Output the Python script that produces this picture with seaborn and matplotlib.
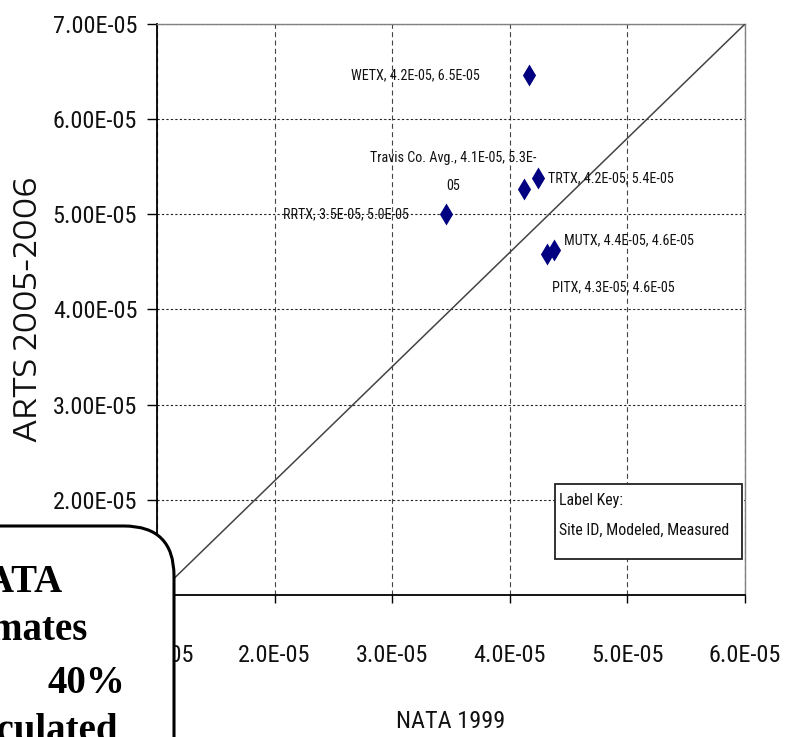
import matplotlib
matplotlib.use("Agg")
import matplotlib.pyplot as plt
from matplotlib import font_manager
from matplotlib.patches import FancyBboxPatch, Rectangle
from matplotlib.transforms import IdentityTransform
import seaborn as sns
import pandas as pd

# Monitoring sites: NATA 1999 modeled vs ARTS 2005-2006 measured concentrations
sites = ["WETX", "Travis Co. Avg.", "TRTX", "RRTX", "MUTX", "PITX"]
nata_1999 = [4.16e-5, 4.12e-5, 4.24e-5, 3.46e-5, 4.38e-5, 4.32e-5]
arts_2005_2006 = [6.46e-5, 5.27e-5, 5.38e-5, 5.00e-5, 4.63e-5, 4.58e-5]

x_ticks = [1e-5, 2e-5, 3e-5, 4e-5, 5e-5, 6e-5]
y_ticks = [1e-5, 2e-5, 3e-5, 4e-5, 5e-5, 6e-5, 7e-5]

# label placement (offset in points, horizontal alignment)
label_offsets = {
    "WETX": (-35, 0, "right"),
    "Travis Co. Avg.": (-51, 12, "center"),
    "TRTX": (7, 0, "left"),
    "RRTX": (-27, 0, "right"),
    "MUTX": (7, 7, "left"),
    "PITX": (3, -24, "left"),
}


def pick_font(candidates):
    have = {f.name for f in font_manager.fontManager.ttflist}
    for fam in candidates:
        if fam in have:
            return fam
    return "DejaVu Sans"


sns.set_theme(style="white")
narrow = pick_font(["Roboto Condensed", "PT Sans Narrow", "Archivo Narrow"])
wide = pick_font(["Encode Sans Expanded", "Liberation Sans", "DejaVu Sans"])
serif = pick_font(["Liberation Serif", "DejaVu Serif"])
plt.rcParams["font.family"] = [narrow, "DejaVu Sans"]

df = pd.DataFrame({"site": sites, "NATA 1999": nata_1999,
                   "ARTS 2005-2006": arts_2005_2006})

W, H = 798, 737
fig = plt.figure(figsize=(W / 100, H / 100), dpi=100, facecolor="white")
ax = fig.add_axes([157 / W, (H - 595) / H, 588 / W, 571 / H])
ax.set_facecolor("white")

ax.set_xlim(x_ticks[0], x_ticks[-1])
ax.set_ylim(y_ticks[0], y_ticks[-1])

# gridlines
ax.set_axisbelow(True)
ax.yaxis.grid(True, linestyle=(0, (2, 2)), color="#222222", lw=0.8)
ax.xaxis.grid(True, linestyle=(0, (4.5, 3)), color="#444444", lw=0.8)

# corner-to-corner reference line
ax.plot([x_ticks[0], x_ticks[-1]], [y_ticks[0], y_ticks[-1]],
        color="#444444", lw=1.1, zorder=3)

sns.scatterplot(data=df, x="NATA 1999", y="ARTS 2005-2006", marker="d",
                s=125, color="#000080", linewidth=0, ax=ax, zorder=5)

for name, xv, yv in zip(sites, nata_1999, arts_2005_2006):
    text = f"{name}, {xv:.1E}, {yv:.1E}"
    if len(text) > 31:
        text = text[:31] + "\n" + text[31:]
    dx, dy, ha = label_offsets[name]
    ax.annotate(text, (xv, yv), xytext=(dx, dy), textcoords="offset points",
                ha=ha, va="center", fontsize=10.2, color="#111111",
                linespacing=2.3, zorder=6)

ax.set_xticks(x_ticks)
ax.set_yticks(y_ticks)
ax.set_xticklabels([f"{v:.1E}" for v in x_ticks])
ax.set_yticklabels([f"{v:.2E}" for v in y_ticks])
ax.tick_params(axis="y", direction="out", length=7.2, width=1, color="black",
               pad=7, labelsize=17.5, left=True, labelcolor="#111111")
ax.tick_params(axis="x", direction="out", length=6, width=1, color="black",
               pad=29, labelsize=17.5, bottom=True, labelcolor="#111111")

for side in ["left", "bottom"]:
    ax.spines[side].set_color("black")
    ax.spines[side].set_linewidth(1.3)
for side in ["top", "right"]:
    ax.spines[side].set_color("#808080")
    ax.spines[side].set_linewidth(1.0)

ax.set_xlabel("NATA 1999", fontsize=17.5, va="center", color="#111111")
ax.xaxis.set_label_coords(0.5, (595 - 721) / 571)
ax.set_ylabel("ARTS 2005-2006", fontsize=22, va="center",
              family=[wide, "DejaVu Sans"], color="#111111")
ax.yaxis.set_label_coords((28 - 157) / 588, 0.5)

# label key
ax.add_patch(Rectangle(((555 - 157) / 588, (595 - 559) / 571),
                       187 / 588, 75 / 571, transform=ax.transAxes,
                       facecolor="white", edgecolor="#222222", lw=1.3,
                       zorder=7))
ax.text((559 - 157) / 588, (595 - 501) / 571, "Label Key:",
        transform=ax.transAxes, ha="left", va="center", fontsize=11.4,
        color="#111111", zorder=8)
ax.text((559 - 157) / 588, (595 - 530) / 571, "Site ID, Modeled, Measured",
        transform=ax.transAxes, ha="left", va="center", fontsize=11.4,
        color="#111111", zorder=8)

# rounded callout box at lower left
callout = FancyBboxPatch((-60, -80), 174 + 60, (H - 526) + 80,
                         boxstyle="round,pad=0,rounding_size=50",
                         transform=IdentityTransform(), facecolor="white",
                         edgecolor="black", lw=2.2, zorder=10)
fig.add_artist(callout)

callout_lines = [("NATA", 62, 592), ("estimates", 88, 640),
                 ("40%", 125, 693), ("calculated", 118, 741)]
for word, right, base in callout_lines:
    fig.text(right / W, 1 - base / H, word, ha="right", va="baseline",
             fontsize=28, fontweight="bold", family=[serif, "DejaVu Serif"],
             color="black", zorder=11)

fig.savefig("out.png", dpi=100, facecolor="white")
